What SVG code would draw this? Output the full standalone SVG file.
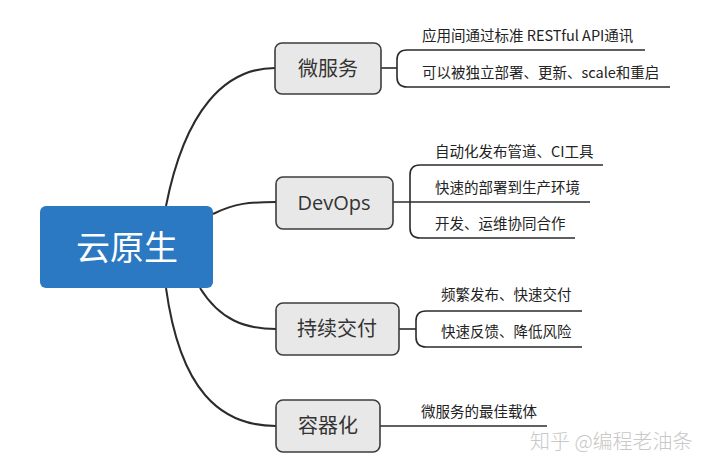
<svg xmlns="http://www.w3.org/2000/svg" width="720" height="470" viewBox="0 0 720 470">
<style>
.curve{fill:none;stroke:#2b2b2b;stroke-width:2}
.br{fill:none;stroke:#2b2b2b;stroke-width:1.6}
.sub rect{fill:#e8e8e8;stroke:#3c3c3c;stroke-width:1.6}
.sub text{font-family:"Open Sans","Noto Sans CJK SC",sans-serif;font-size:20px;fill:#333;text-anchor:middle}
.leaf{font-family:"Noto Sans CJK SC",sans-serif;font-size:14.5px;fill:#222}
</style>
<rect width="720" height="470" fill="#fff"/>
<g id="connectors">
<path class="curve" d="M166,206 C185,110 225,68 275,68"/>
<path class="curve" d="M213,214 C235,203 250,202 276,202"/>
<path class="curve" d="M200,288 C220,320 245,329 276,329"/>
<path class="curve" d="M166,288 C180,390 220,426 276,426"/>
<path class="br" d="M381,68 H397"/>
<path class="br" d="M645,50 H407 Q397,50 397,60 V77 Q397,87 407,87 H670"/>
<path class="br" d="M393,202 H590"/>
<path class="br" d="M603,165 H420 Q410,165 410,175 V228 Q410,238 420,238 H575"/>
<path class="br" d="M399,329 H416"/>
<path class="br" d="M582,311 H426 Q416,311 416,321 V337 Q416,347 426,347 H582"/>
<path class="br" d="M380,426 H547"/>
</g>
<g id="root">
<rect x="40" y="206" width="173" height="82" rx="6" fill="#2b79c2"/>
<text x="127" y="260" font-family="Noto Sans CJK SC,sans-serif" font-size="34" fill="#fff" text-anchor="middle">云原生</text>
</g>
<g id="n-microservice" class="sub">
<rect x="275" y="43" width="106" height="51" rx="7"/>
<text x="328" y="76">微服务</text>
</g>
<g id="n-devops" class="sub">
<rect x="276" y="177" width="117" height="52" rx="7"/>
<text x="334" y="210">DevOps</text>
</g>
<g id="n-cd" class="sub">
<rect x="276" y="303" width="123" height="52" rx="7"/>
<text x="337" y="336">持续交付</text>
</g>
<g id="n-container" class="sub">
<rect x="276" y="400" width="104" height="52" rx="7"/>
<text x="328" y="433">容器化</text>
</g>
<g id="leaves">
<text class="leaf" x="422" y="41">应用间通过标准 RESTful API通讯</text>
<text class="leaf" x="422" y="78">可以被独立部署、更新、scale和重启</text>
<text class="leaf" x="435" y="157">自动化发布管道、CI工具</text>
<text class="leaf" x="435" y="193">快速的部署到生产环境</text>
<text class="leaf" x="435" y="229">开发、运维协同合作</text>
<text class="leaf" x="441" y="300">频繁发布、快速交付</text>
<text class="leaf" x="441" y="337">快速反馈、降低风险</text>
<text class="leaf" x="421" y="417">微服务的最佳载体</text>
</g>
<text x="530" y="449" font-family="Noto Sans CJK SC,sans-serif" font-size="20" font-weight="300" fill="#c8c8c8">知乎 @编程老油条</text>
</svg>
